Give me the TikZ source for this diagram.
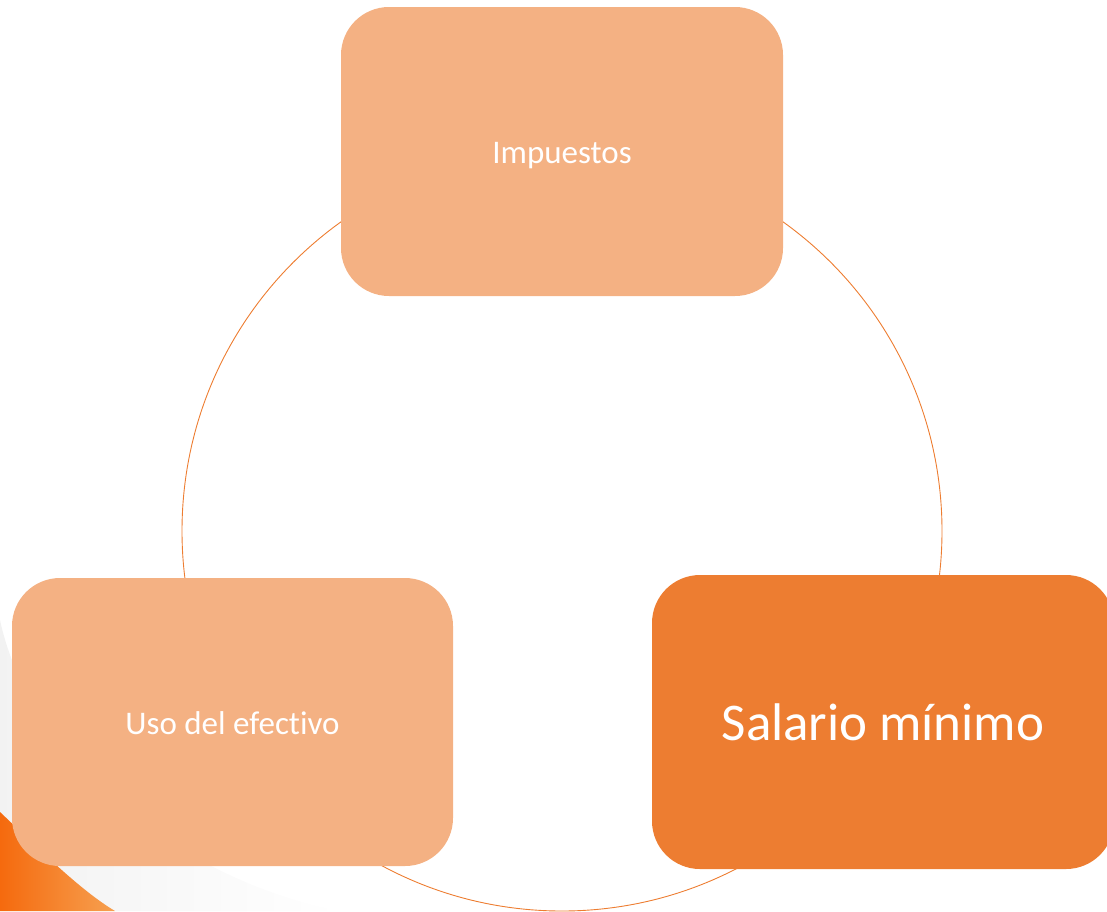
\documentclass[tikz,border=0pt]{standalone}
\usepackage{fontspec}
\setmainfont[Ligatures=NoCommon]{Carlito}
\definecolor{dk}{HTML}{ED7D31}
\definecolor{lt}{HTML}{F4B183}
\definecolor{sw}{HTML}{F56A0E}
\definecolor{sw2}{HTML}{F6A050}
\newcommand{\lowertext}[2]{\raisebox{-#1}[\height][\depth]{#2}}
\tikzset{
  box/.style={rounded corners=48pt, inner sep=0pt, text=white, align=center},
  lightbox/.style={box, fill=lt, font=\fontsize{33}{40}\selectfont},
  darkbox/.style={box, fill=dk, font=\fontsize{53}{64}\selectfont},
  ring/.style={draw=dk, line width=0.9pt}
}
\begin{document}
\begin{tikzpicture}[x=1pt,y=-1pt]
\useasboundingbox (0,0) rectangle (1107,911);
% background haze
\shade[left color=white!90!gray, right color=white]
  (0,620) .. controls (30,760) and (180,880) .. (340,911) -- (0,911) -- cycle;
% background swoosh
\shade[left color=sw, right color=sw2]
  (0,812) .. controls (40,850) and (80,890) .. (115,911) -- (0,911) -- cycle;
% ring
\coordinate (c) at (562,531);
\draw[ring] (c) circle (380pt);
% boxes
\node[lightbox, minimum width=442pt, minimum height=289pt] (imp) at (562,151.5) {\lowertext{4pt}{Impuestos}};
\node[lightbox, minimum width=441pt, minimum height=288pt] (uso) at (232.5,722) {\lowertext{1pt}{Uso del efectivo}};
\node[darkbox, minimum width=462pt, minimum height=294pt] (sal) at (883,722) {Salario mínimo};
\end{tikzpicture}
\end{document}
